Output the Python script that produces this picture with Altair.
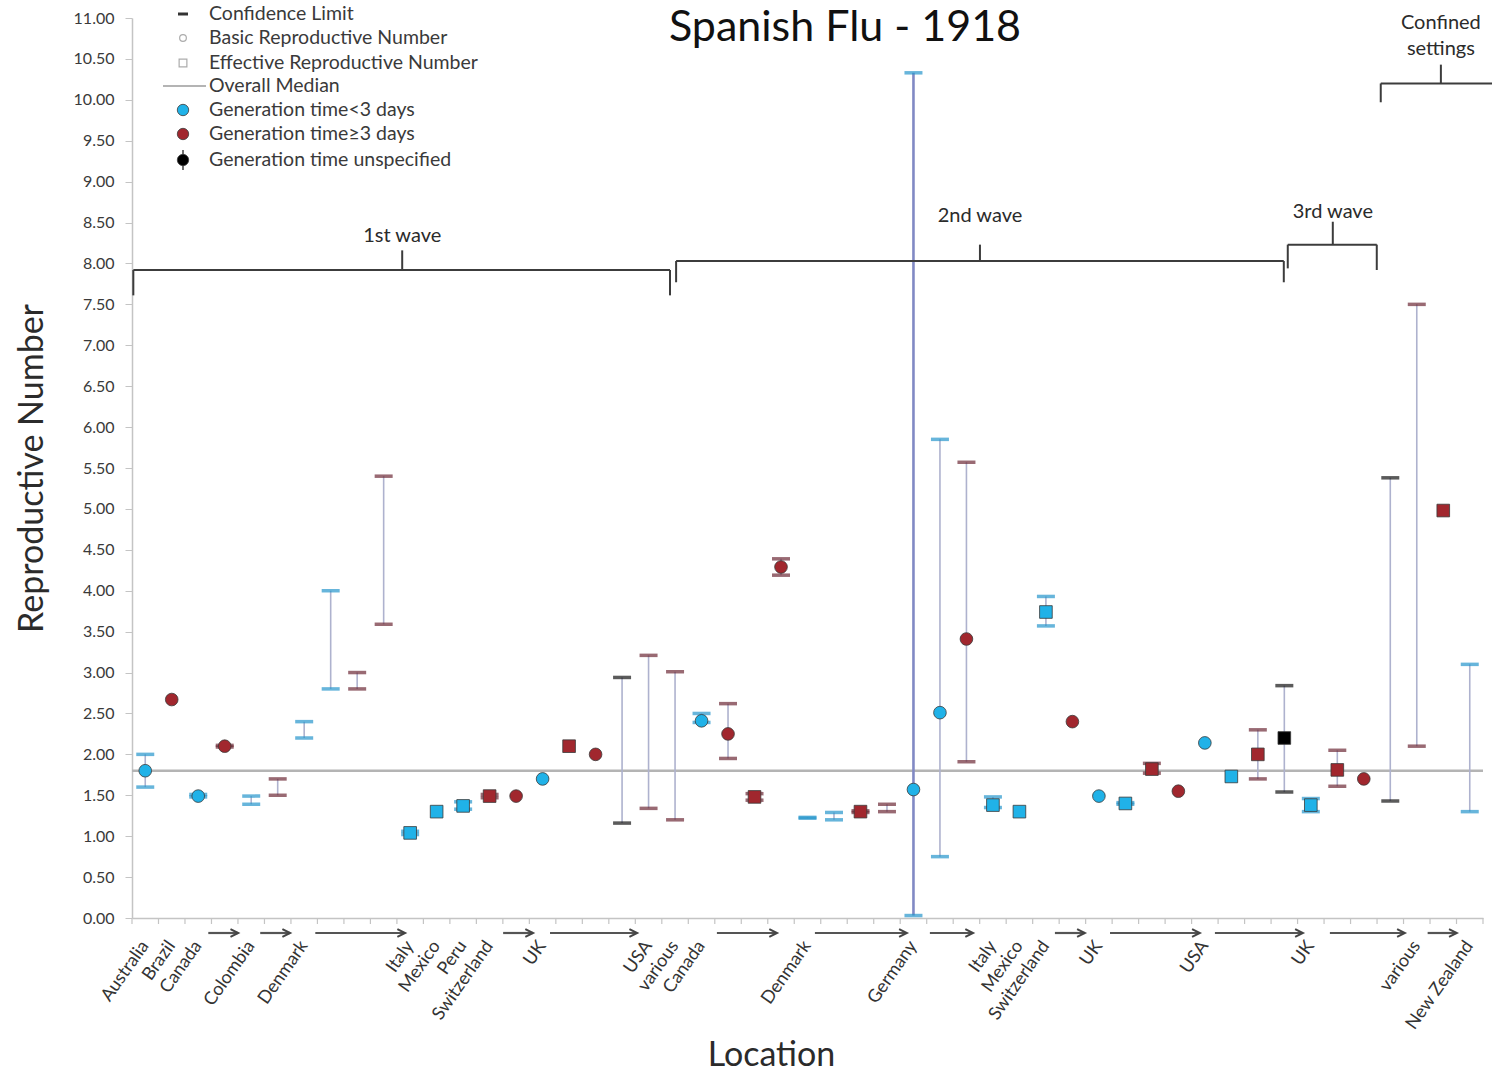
import altair as alt
import numpy as np
import pandas as pd

# ---- estimates, one slot per study (left to right) ----
position = list(range(1, 52))
estimate = [
    1.80, 2.67, 1.49, 2.10, None, None, None, None, None, None,   # 1-10
    1.04, 1.30, 1.37, 1.49, 1.49, 1.70, 2.10, 2.00, None, None,   # 11-20
    None, 2.41, 2.25, 1.48, 4.29, None, None, 1.30, None, 1.57,   # 21-30
    2.51, 3.41, 1.38, 1.30, 3.74, 2.40, 1.49, 1.40, 1.82, 1.55,   # 31-40
    2.14, 1.73, 2.00, 2.20, 1.38, 1.81, 1.70, None, None, 4.98,   # 41-50
    None,                                                          # 51
]
ci_low = [
    1.60, None, 1.48, 2.09, 1.39, 1.50, 2.20, 2.80, 2.80, 3.59,
    1.02, None, 1.33, 1.47, None, None, None, None, 1.16, 1.34,
    1.20, 2.39, 1.95, 1.44, 4.19, 1.22, 1.20, 1.29, 1.30, 0.03,
    0.75, 1.91, 1.35, None, 3.57, None, None, 1.39, 1.77, None,
    None, None, 1.70, 1.54, 1.30, 1.61, None, 1.43, 2.10, None,
    1.30,
]
ci_high = [
    2.00, None, 1.51, 2.11, 1.49, 1.70, 2.40, 4.00, 3.00, 5.40,
    1.06, None, 1.42, 1.51, None, None, None, None, 2.94, 3.21,
    3.01, 2.50, 2.62, 1.52, 4.39, 1.23, 1.29, 1.31, 1.39, 10.33,
    5.85, 5.57, 1.48, None, 3.93, None, None, 1.41, 1.89, None,
    None, None, 2.30, 2.84, 1.46, 2.05, None, 5.38, 7.50, None,
    3.10,
]
# B = basic reproductive number, E = effective, - = interval only
number_type = list("BBBB------EEEEBBEB---BBEB--E-BBBEEEBBEEBBEEEEEB--E-")
# L = generation time < 3 days, G = >= 3 days, U = unspecified
generation = list("LGLGLGLLGGLLLGGLGGUGGLGGGLLGGLLGLLLGLLGGLLGULGGUGGL")

location_pos = [1, 2, 3, 5, 7, 11, 12, 13, 14, 16, 20, 21, 22, 26, 30, 33, 34, 35, 37, 41, 45, 49, 51]
location_name = ["Australia", "Brazil", "Canada", "Colombia", "Denmark", "Italy", "Mexico",
                 "Peru", "Switzerland", "UK", "USA", "various", "Canada", "Denmark",
                 "Germany", "Italy", "Mexico", "Switzerland", "UK", "USA", "UK",
                 "various", "New Zealand"]

# arrows under the axis: a location continues over the following slots
arrow_from = [3.38, 5.34, 7.42, 14.51, 16.28, 22.58, 26.28, 30.62, 35.34, 37.42, 41.38, 45.72, 49.41]
arrow_to = [4.51, 6.47, 10.81, 15.64, 19.57, 24.85, 29.75, 32.25, 36.47, 40.81, 44.70, 48.55, 50.51]

# wave brackets
bracket_label = ["1st wave", "2nd wave", "3rd wave", "Confined\nsettings"]
bracket_left = [0.55, 21.04, 44.13, 47.64]
bracket_right = [20.81, 43.98, 47.49, 51.90]
bracket_mid = [10.70, 32.51, 45.83, 49.91]
bracket_bar = [7.92, 8.03, 8.23, 10.20]
bracket_left_end = [7.61, 7.77, 7.94, 9.97]
bracket_right_end = [7.61, 7.77, 7.92, 10.20]
bracket_mid_top = [8.16, 8.23, 8.51, 10.43]
bracket_label_y = [8.34, 8.58, 8.63, 10.94]

overall_median = 1.80

TYPE_NAMES = {"B": "Basic", "E": "Effective", "-": "None"}
GEN_NAMES = {"L": "<3 days", "G": ">=3 days", "U": "unspecified"}

df = pd.DataFrame({
    "pos": position,
    "est": estimate,
    "lo": ci_low,
    "hi": ci_high,
    "kind": [TYPE_NAMES[t] for t in number_type],
    "gen": [GEN_NAMES[g] for g in generation],
})

W, H = 1351, 900
FONT = "Lato"
AXIS_GREY = "#c4c4c4"
gen_domain = ["<3 days", ">=3 days", "unspecified"]
fill_range = ["#20B2E8", "#A1272E", "#000000"]
cap_range = ["#2696CC", "#6E2B38", "#151515"]

x_scale = alt.Scale(domain=[0.5, 51.5], nice=False, zero=False)
y_scale = alt.Scale(domain=[0, 11], nice=False)

x_axis = alt.Axis(
    labels=False, ticks=False, grid=False,
    domainColor=AXIS_GREY, domainWidth=1.5,
    title="Location", titleFont=FONT, titleFontSize=34, titleFontWeight="normal",
    titleColor="#2b2b2b", titlePadding=120, titleX=639,
)
y_axis = alt.Axis(
    values=list(np.round(np.arange(0, 11.01, 0.5), 2)), format=".2f", grid=False,
    tickSize=7, tickColor=AXIS_GREY, domainColor=AXIS_GREY, domainWidth=1.5,
    labelFont=FONT, labelFontSize=16, labelColor="#3a3a3a", labelPadding=11,
    title="Reproductive Number", titleFont=FONT, titleFontSize=34,
    titleFontWeight="normal", titleColor="#2b2b2b", titlePadding=24,
)

base = alt.Chart(df)

# overall median line; this layer also carries both axes
median_df = pd.DataFrame({"x0": [0.5], "x1": [51.5], "m": [overall_median]})
median = alt.Chart(median_df).mark_rule(color="#b4b4b4", strokeWidth=2.5).encode(
    x=alt.X("x0:Q", scale=x_scale, axis=x_axis), x2="x1:Q",
    y=alt.Y("m:Q", scale=y_scale, axis=y_axis),
)

# short ticks on the category boundaries of the x axis
bounds = base.transform_calculate(b="datum.pos - 0.5")
bound_ticks = bounds.mark_rule(color=AXIS_GREY, strokeWidth=1.2).encode(
    x=alt.X("b:Q", scale=x_scale), y=alt.value(H), y2=alt.value(H + 6)
)
last_tick = alt.Chart(median_df).mark_rule(color=AXIS_GREY, strokeWidth=1.2).encode(
    x=alt.X("x1:Q", scale=x_scale), y=alt.value(H), y2=alt.value(H + 6)
)

ci_lines = base.transform_filter("isValid(datum.lo)").mark_rule().encode(
    x=alt.X("pos:Q", scale=x_scale),
    y=alt.Y("lo:Q", scale=y_scale),
    y2="hi:Q",
    color=alt.condition("datum.hi - datum.lo > 8", alt.value("#8189C4"), alt.value("#AEB2CE")),
    strokeWidth=alt.condition("datum.hi - datum.lo > 8", alt.value(2.6), alt.value(1.6)),
)

caps = base.transform_filter("isValid(datum.lo)").transform_fold(
    ["lo", "hi"], as_=["end", "val"]
).mark_tick(orient="horizontal", size=18, thickness=3.5).encode(
    x=alt.X("pos:Q", scale=x_scale),
    y=alt.Y("val:Q", scale=y_scale),
    color=alt.Color("gen:N", scale=alt.Scale(domain=gen_domain, range=cap_range), legend=None),
)

points = base.transform_filter("isValid(datum.est)").mark_point(
    filled=True, size=160, stroke="#3a3a3a", strokeWidth=0.8, opacity=1
).encode(
    x=alt.X("pos:Q", scale=x_scale),
    y=alt.Y("est:Q", scale=y_scale),
    shape=alt.Shape("kind:N", scale=alt.Scale(domain=["Basic", "Effective"], range=["circle", "square"]), legend=None),
    fill=alt.Fill("gen:N", scale=alt.Scale(domain=gen_domain, range=fill_range), legend=None),
)

# location names and continuation arrows under the axis
loc_df = pd.DataFrame({"pos": location_pos, "name": location_name})
loc_text = alt.Chart(loc_df).mark_text(
    angle=305, align="right", baseline="middle", font=FONT, fontSize=18, color="#333333"
).encode(x=alt.X("pos:Q", scale=x_scale), y=alt.value(H + 25), text="name:N")

arrow_df = pd.DataFrame({"a": arrow_from, "b": arrow_to})
arrow_shaft = alt.Chart(arrow_df).mark_rule(color="#555555", strokeWidth=2.2).encode(
    x=alt.X("a:Q", scale=x_scale), x2="b:Q", y=alt.value(H + 15)
)
arrow_head = alt.Chart(arrow_df).mark_point(
    shape="M-2,-1L0,0L-2,1", filled=False, size=60, color="#444444", strokeWidth=2, opacity=1
).encode(x=alt.X("b:Q", scale=x_scale), y=alt.value(H + 15))

# wave brackets above the data
seg_rows = []
for i in range(len(bracket_label)):
    seg_rows.append((bracket_left[i], bracket_right[i], bracket_bar[i], bracket_bar[i]))
    seg_rows.append((bracket_left[i], bracket_left[i], bracket_left_end[i], bracket_bar[i]))
    seg_rows.append((bracket_right[i], bracket_right[i], bracket_right_end[i], bracket_bar[i]))
    seg_rows.append((bracket_mid[i], bracket_mid[i], bracket_bar[i], bracket_mid_top[i]))
seg_df = pd.DataFrame(seg_rows, columns=["x0", "x1", "y0", "y1"])
brackets = alt.Chart(seg_df).mark_rule(color="#3c3c3c", strokeWidth=2).encode(
    x=alt.X("x0:Q", scale=x_scale), x2="x1:Q",
    y=alt.Y("y0:Q", scale=y_scale), y2="y1:Q",
)
blabel_df = pd.DataFrame({"x": bracket_mid, "y": bracket_label_y, "t": bracket_label})
bracket_text = alt.Chart(blabel_df).mark_text(
    font=FONT, fontSize=20, color="#2b2b2b", baseline="middle", lineBreak="\n", lineHeight=26
).encode(x=alt.X("x:Q", scale=x_scale), y=alt.Y("y:Q", scale=y_scale), text="t:N")

# hand-built key in the upper left corner
one = pd.DataFrame({"k": [0]})
key_x = 183 - 132
key_text_x = 209 - 132
key_rows_y = [14, 38, 63, 86, 110, 134, 160]
key_labels = ["Confidence Limit", "Basic Reproductive Number", "Effective Reproductive Number",
              "Overall Median", "Generation time<3 days", "Generation time\u22653 days",
              "Generation time unspecified"]
key_layers = [
    alt.Chart(one).mark_rule(color="#333333", strokeWidth=3).encode(
        x=alt.value(key_x - 5), x2=alt.value(key_x + 5), y=alt.value(key_rows_y[0] - 18)),
    alt.Chart(one).mark_point(shape="circle", filled=False, size=45, color="#8a8a8a", strokeWidth=1.2).encode(
        x=alt.value(key_x), y=alt.value(key_rows_y[1] - 18)),
    alt.Chart(one).mark_point(shape="square", filled=False, size=60, color="#8a8a8a", strokeWidth=1.2).encode(
        x=alt.value(key_x), y=alt.value(key_rows_y[2] - 18)),
    alt.Chart(one).mark_rule(color="#b4b4b4", strokeWidth=2).encode(
        x=alt.value(163 - 132), x2=alt.value(206 - 132), y=alt.value(key_rows_y[3] - 18)),
    alt.Chart(one).mark_rule(color="#111111", strokeWidth=1.2).encode(
        x=alt.value(key_x), y=alt.value(key_rows_y[6] - 28), y2=alt.value(key_rows_y[6] - 8)),
]
for yy, col in zip(key_rows_y[4:], fill_range):
    key_layers.append(
        alt.Chart(one).mark_point(shape="circle", filled=True, size=130, fill=col, stroke="#3a3a3a",
                                  strokeWidth=0.8, opacity=1).encode(
            x=alt.value(key_x), y=alt.value(yy - 18)))
for yy, lab in zip(key_rows_y, key_labels):
    key_layers.append(
        alt.Chart(one).mark_text(text=lab, align="left", baseline="middle", font=FONT,
                                 fontSize=19.5, color="#3a3a3a").encode(
            x=alt.value(key_text_x), y=alt.value(yy - 18)))

title = alt.Chart(one).mark_text(
    text="Spanish Flu - 1918", font=FONT, fontSize=43, color="#111111", align="center", baseline="middle"
).encode(x=alt.value(845 - 132), y=alt.value(28 - 18))

chart = alt.layer(
    median, bound_ticks, last_tick, ci_lines, caps, points, brackets, bracket_text,
    loc_text, arrow_shaft, arrow_head, *key_layers, title,
).properties(
    width=W, height=H,
    autosize=alt.AutoSizeParams(type="none"),
    padding={"left": 132, "top": 18, "right": 9, "bottom": 160},
    background="white",
).configure_view(stroke=None)

chart.save("out.html", embed_options={"renderer": "svg", "actions": False})
